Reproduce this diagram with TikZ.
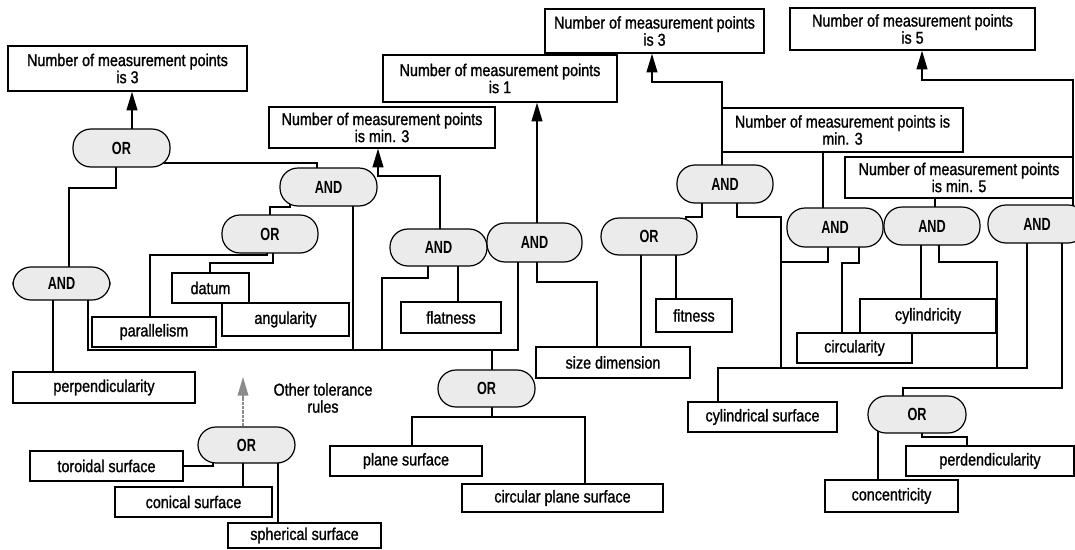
\documentclass[tikz,border=0pt]{standalone}
\usepackage{fontspec}
\setmainfont{Liberation Sans}[FakeStretch=0.84, FakeBold=1.2]
\newfontfamily\gatefont{Liberation Sans}[FakeStretch=0.72]
\usetikzlibrary{backgrounds,arrows.meta}

\tikzset{
  every node/.style={font=\fontsize{12.8}{12.8}\selectfont},
  % a node spanning the rectangle with corners (#1,#2) and (#3,#4)
  span/.style args={#1/#2/#3/#4}{at={({(#1+#3)/2},{(#2+#4)/2})},
    minimum width={(#3-#1)*0.75pt}, minimum height={(#4-#2)*0.75pt}},
  rulebox/.style={draw, line width=0.9pt, fill=white, inner sep=0pt, align=center},
  gate/.style={draw, line width=0.9pt, fill=black!8, rounded corners=13.5pt,
    inner sep=0pt, font=\fontsize{13.2}{13}\gatefont\bfseries},
  wire/.style={line width=1.4pt, line join=miter},
  feed/.style={wire, -{Triangle[length=14pt,width=8pt]}},
  hint/.style={line width=1.2pt, draw=black!45, dash pattern=on 2.5pt off 0.7pt,
    -{Triangle[length=14pt,width=8pt]}},
}

\begin{document}
\begin{tikzpicture}[x=0.75pt, y=-0.75pt]
\useasboundingbox (0,0) rectangle (1075,550);
\clip (0,0) rectangle (1075,550);

% ---- result boxes ----
\node[rulebox, span=8/46/247/91]     (b1) {Number of measurement points\\is 3};
\node[rulebox, span=269/107/495/148] (b2) {Number of measurement points\\is min. 3};
\node[rulebox, span=383/55/617/102]  (b3) {Number of measurement points\\is 1};
\node[rulebox, span=545/9/764/53]    (b4) {Number of measurement points\\is 3};
\node[rulebox, span=790/8/1035/50]   (b5) {Number of measurement points\\is 5};
\node[rulebox, span=722/108/963/152] (b6) {Number of measurement points is\\min. 3};
\node[rulebox, span=845/157/1073/198](b7) {Number of measurement points\\is min. 5};

% ---- tolerance and surface boxes ----
\node[rulebox, span=172/273/249/303] (datum) {datum};
\node[rulebox, span=222/303/349/336] (angul) {angularity};
\node[rulebox, span=92/317/216/347]  (paral) {parallelism};
\node[rulebox, span=13/372/195/403]  (perp)  {perpendicularity};
\node[rulebox, span=401/302/501/333] (flat)  {flatness};
\node[rulebox, span=536/347/690/378] (size)  {size dimension};
\node[rulebox, span=656/299/732/332] (fit)   {fitness};
\node[rulebox, span=860/299/996/333] (cyl)   {cylindricity};
\node[rulebox, span=797/333/912/363] (circ)  {circularity};
\node[rulebox, span=688/402/837/432] (cylsurf) {cylindrical surface};
\node[rulebox, span=906/446/1074/476](perd)  {perdendicularity};
\node[rulebox, span=825/480/958/512] (conc)  {concentricity};
\node[rulebox, span=330/446/482/476] (plane) {plane surface};
\node[rulebox, span=462/484/663/512] (cplane){circular plane surface};
\node[rulebox, span=30/451/183/481]  (tor)   {toroidal surface};
\node[rulebox, span=115/487/272/517] (con)   {conical surface};
\node[rulebox, span=228/523/381/548] (sph)   {spherical surface};

\node[align=center] (other) at (323,398) {Other tolerance\\rules};
\coordinate (othertip) at (243,377);

% ---- logic gates ----
\node[gate, span=73/129/170/167]   (g1)  {OR};
\node[gate, span=280/168/377/206]  (g2)  {AND};
\node[gate, span=222/215/318/253]  (g3)  {OR};
\node[gate, span=13/267/110/300]   (g4)  {AND};
\node[gate, span=390/229/487/266]  (g5)  {AND};
\node[gate, span=487/223/582/262]  (g6)  {AND};
\node[gate, span=438/370/535/407]  (g7)  {OR};
\node[gate, span=601/218/697/255]  (g8)  {OR};
\node[gate, span=677/165/773/203]  (g9)  {AND};
\node[gate, span=787/208/883/247]  (g10) {AND};
\node[gate, span=884/207/980/245]  (g11) {AND};
\node[gate, span=988/205/1086/243] (g12) {AND};
\node[gate, span=868/396/966/433]  (g13) {OR};
\node[gate, span=198/427/295/463]  (g14) {OR};

% ---- connectors ----
\begin{scope}[on background layer]
  % left group
  \draw[feed] (g1.center -| 132,0) -- (b1.south -| 132,0);
  \draw[wire] (g1.center -| 116,0) -- (116,188) -- (69,188) -- (g4.center -| 69,0);
  \draw[wire] (g1.center |- 0,163) -- (317,163) -- (g2.center -| 317,0);
  \draw[feed] (g5.center -| 440,0) -- (440,176) -- (378,176) -- (b2.south -| 378,0);
  \draw[wire] (g2.center -| 290,0) -- (290,207) -- (270,207) -- (g3.center -| 270,0);
  \draw[wire] (g2.center -| 353,0) -- (353,350);
  \draw[wire] (g3.center -| 267,0) -- (267,255) -- (150,255) -- (paral.north -| 150,0);
  \draw[wire] (g3.center -| 273,0) -- (273,263) -- (210,263) -- (datum.north -| 210,0);
  \draw[wire] (g4.center -| 53,0) -- (perp.north -| 53,0);
  \draw[wire] (g4.center -| 88,0) -- (88,350) -- (518,350) -- (g6.center -| 518,0);
  \draw[wire] (g5.center -| 428,0) -- (428,278) -- (382,278) -- (382,350);
  \draw[wire] (g5.center -| 458,0) -- (flat.north -| 458,0);
  \draw[feed] (g6.center -| 537,0) -- (b3.south -| 537,0);
  \draw[wire] (g6.center -| 537,0) -- (537,282) -- (597,282) -- (size.north -| 597,0);
  \draw[wire] (g7.center -| 492,0) -- (492,350);
  \draw[wire] (g7.center -| 492,0) -- (492,417);
  \draw[wire] (plane.north -| 412,0) -- (412,417) -- (585,417) -- (cplane.north -| 585,0);

  % middle group
  \draw[wire] (g8.center -| 686,0) -- (686,217) -- (702,217) -- (g9.center -| 702,0);
  \draw[wire] (g8.center -| 641,0) -- (size.north -| 641,0);
  \draw[wire] (g8.center -| 676,0) -- (fit.north -| 676,0);
  \draw[feed] (g9.center -| 722,0) -- (722,82) -- (652,82) -- (b4.south -| 652,0);
  \draw[wire] (g9.center -| 737,0) -- (737,217) -- (781,217) -- (781,368);
  \draw[wire] (cylsurf.north -| 718,0) -- (718,368) -- (1027,368) -- (g12.center -| 1027,0);

  % right group
  \draw[wire] (g10.center -| 828,0) -- (828,262) -- (781,262);
  \draw[wire] (g10.center -| 859,0) -- (859,263) -- (842,263) -- (circ.north -| 842,0);
  \draw[wire] (g10.center -| 823,0) -- (b6.south -| 823,0);
  \draw[wire] (g11.center -| 935,0) -- (b7.south -| 935,0);
  \draw[wire] (g11.center -| 921,0) -- (cyl.north -| 921,0);
  \draw[wire] (g11.center -| 939,0) -- (939,262) -- (997,262) -- (997,368);
  \draw[feed] (g12.center -| 1073,0) -- (1073,80) -- (922,80) -- (b5.south -| 922,0);
  \draw[wire] (g12.center -| 1062,0) -- (1062,388) -- (903,388) -- (g13.center -| 903,0);
  \draw[wire] (g13.center -| 878,0) -- (conc.north -| 878,0);
  \draw[wire] (g13.center -| 922,0) -- (922,437) -- (967,437) -- (perd.north -| 967,0);

  % surfaces group
  \draw[wire] (tor.east) -- (tor.east -| 213,0) -- (g14.center -| 213,0);
  \draw[wire] (g14.center -| 243,0) -- (con.north -| 243,0);
  \draw[wire] (g14.center -| 278,0) -- (sph.north -| 278,0);
  \draw[hint] (g14.north -| othertip) -- (othertip);
\end{scope}
\end{tikzpicture}
\end{document}
